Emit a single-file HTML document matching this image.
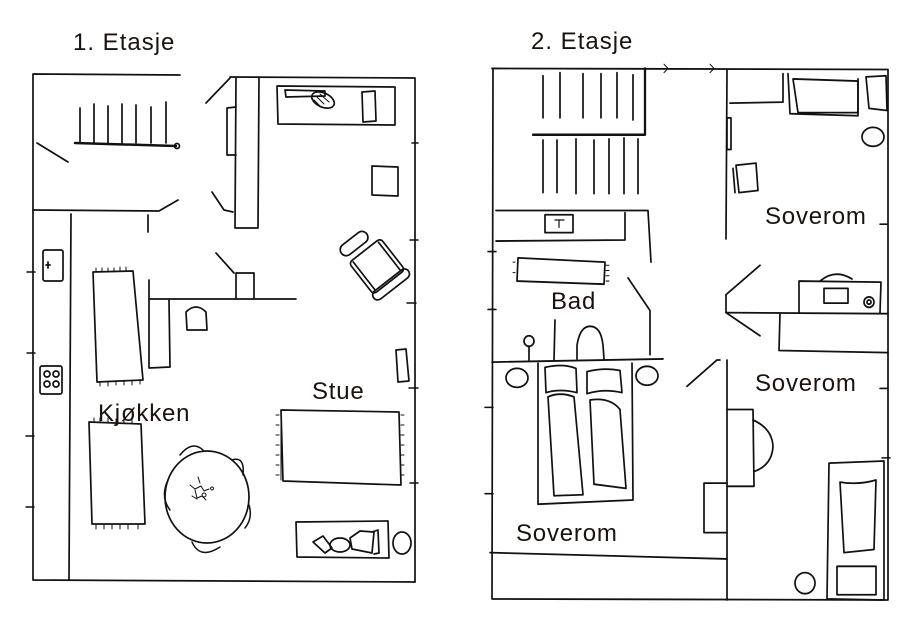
<!DOCTYPE html>
<html><head><meta charset="utf-8"><style>
html,body{margin:0;padding:0;background:#fff;width:920px;height:629px;overflow:hidden}
svg{display:block}
text{font-family:"Liberation Sans",sans-serif;fill:#1a120e}
</style></head><body>
<svg width="920" height="629" viewBox="0 0 920 629" xmlns="http://www.w3.org/2000/svg">
<g fill="none" stroke="#111" stroke-width="1.7" stroke-linecap="round" stroke-linejoin="round">
<!-- LEFT PLAN -->
<path d="M180 75 L33 74 L33 580 L415 582"/>
<path d="M230 77 L415 78 L415 582"/>
<path d="M33 210 L159 211 L178 200"/>
<path d="M37 143 L68 162"/>
<path d="M71 214 L69 580"/>
<path d="M80 108V143 M94 104V143 M108 106V143 M122 104V143 M136 105V143 M151 107V143 M166 102V143"/>
<path d="M75 143 L176 146" stroke-width="2.5"/>
<circle cx="177" cy="146" r="2.5"/>
<path d="M236 78 L235 228 L258 228 L259 78"/>
<path d="M236 107 L227 108 L227 155 L236 155"/>
<path d="M206 103 L230 78"/>
<path d="M212 192 L224 210 L233 212"/>
<path d="M148 215 V232"/>
<path d="M149 280 V368 L170 367 L169 300"/>
<path d="M149 299 L296 299"/>
<path d="M236 298 V273 L254 273 L254 298"/>
<path d="M216 253 L234 273"/>
<path d="M187 330 L186 312 Q196 302 206 312 L207 330 Z"/>
<rect x="43" y="250" width="20" height="31" rx="2"/>
<path d="M46 265 H50 M48 262 V268"/>
<rect x="40" y="366" width="22" height="28" rx="2"/>
<circle cx="47" cy="374" r="3"/><circle cx="56" cy="374" r="3"/><circle cx="47" cy="384" r="3"/><circle cx="56" cy="384" r="3"/>
<path d="M93 272 L133 271 L143 380 L97 382 Z"/>
<path d="M96 272V268 M102 272V268 M108 272V268 M114 272V268 M120 271V267 M126 271V267 M100 382V386 M108 382V386 M116 381V385 M124 381V385 M132 381V385 M140 380V384" stroke-width="1"/>
<path d="M89 422 L141 424 L145 524 L92 524 Z"/>
<path d="M94 422V418 M100 422V418 M108 422V418 M116 423V419 M124 423V419 M132 423V419 M96 525V529 M104 525V529 M112 525V529 M120 525V529 M128 525V529 M138 525V529" stroke-width="1"/>
<ellipse cx="207" cy="497" rx="42" ry="46"/>
<path d="M180 455 Q192 440 203 450 M232 460 Q245 456 243 475 M249 505 Q253 518 245 528 M192 542 Q200 560 220 547 M168 480 Q160 497 170 510" stroke-width="1.5"/>
<path d="M190 485 l5 4 l6 -3 l3 5 l5 -2 M195 490 l2 8 l5 -2 l4 4 M198 477 l2 6 M192 496 l5 3 M204 493 a2 2 0 1 0 0.1 0 M212 487 a1.5 1.5 0 1 0 .1 0" stroke-width="1"/>
<path d="M277 86 L395 87 L395 125 L278 124 Z"/>
<path d="M285 90 L325 91 L325 96 L286 97 Z"/>
<ellipse cx="323" cy="100" rx="12" ry="7" transform="rotate(25 323 100)"/>
<path d="M316 96 l8 8 M320 94 l9 8 M314 100 l6 6" stroke-width="1"/>
<path d="M362 92 L375 91 L376 121 L363 122 Z"/>
<path d="M372 166 L398 167 L398 196 L372 195 Z"/>
<g transform="rotate(-38 372 260)">
<rect x="352" y="248" width="40" height="40" rx="4"/>
<rect x="350" y="286" width="44" height="10" rx="5"/>
<rect x="352" y="230" width="32" height="12" rx="6"/>
<path d="M356 250 V286 M388 250 V286"/>
</g>
<path d="M396 350 L406 349 L409 381 L398 382 Z"/>
<path d="M281 410 L399 412 L401 485 L283 481 Z"/>
<path d="M281 412V480 M279 415h-3 M279 425h-3 M279 435h-3 M279 445h-3 M279 455h-3 M279 465h-3 M279 475h-3 M401 415h3 M401 425h3 M401 435h3 M401 445h3 M401 455h3 M401 465h3 M401 475h3" stroke-width="1"/>
<path d="M296 522 L388 521 L389 558 L297 557 Z"/>
<path d="M313 542 L323 536 L332 548 L325 553 Z"/>
<ellipse cx="340" cy="545" rx="10" ry="7"/>
<path d="M350 538 L360 531 L374 532 L372 553 L352 549 Z"/>
<path d="M372 532 L378 530 L379 553 L374 554"/>
<ellipse cx="402" cy="543" rx="9" ry="11"/>
<path d="M412 143h6 M410 240h8 M407 303 H416 M409 388h9 M410 483h8 M27 272h8 M27 353h8 M26 436h8 M26 507h8" stroke-width="1.5"/>
</g>

<!-- RIGHT PLAN (y-corrected) -->
<g fill="none" stroke="#111" stroke-width="1.7" stroke-linecap="round" stroke-linejoin="round" transform="translate(0,60) scale(1,1.0526) translate(0,-60)">
<path d="M492 68 L888 69 L888 573 L492 572 L493 68"/>
<path d="M664 64 l4 4 l-4 4 M710 64 l4 4 l-4 4" stroke-width="1"/>
<path d="M727 69 L726 230 M727 345 L727 573"/>
<path d="M543 75V115 M560 72V115 M583 73V115 M601 73V115 M617 72V115 M633 74V117"/>
<path d="M533 131 L645 131 L645 68" stroke-width="2.3"/>
<path d="M543 136V186 M557 136V186 M576 135V187 M594 136V187 M609 135V187 M624 134V187 M638 135V187"/>
<path d="M496 203 L648 203 L651 252 M496 232 L625 231 L625 205"/>
<rect x="545" y="207" width="28" height="17"/>
<path d="M555 212 h9 M559 212 v7" stroke-width="1.2"/>
<path d="M518 248 L605 252 L604 273 L517 270 Z"/>
<path d="M606 255h3 M606 260h3 M606 265h3 M606 270h3 M515 252h-2 M515 262h-2" stroke-width="1"/>
<path d="M628 267 L650 298 L650 340"/>
<path d="M492 347 L663 344"/>
<path d="M555 307 L554 345"/>
<path d="M577 344 L577 331 Q580 313 590 313 Q601 313 603 331 L604 344"/>
<circle cx="529" cy="327" r="5"/><path d="M529 332V345"/>
<path d="M488 242h8 M488 297h8 M485 390h8 M485 472h8" stroke-width="1.5"/>
<path d="M538 348 L538 482 L633 478 L632 348"/>
<path d="M545 352 Q563 348 576 353 L577 376 Q560 372 546 376 Z"/>
<path d="M587 356 Q605 352 620 355 L622 376 Q604 372 587 377 Z"/>
<path d="M548 380 Q560 375 574 380 L583 473 L554 474 Z"/>
<path d="M590 383 Q610 380 620 392 L626 467 L594 463 Z"/>
<ellipse cx="517" cy="362" rx="11" ry="9"/>
<ellipse cx="647" cy="360" rx="11" ry="9"/>
<path d="M490 528 L727 534"/>
<path d="M687 370 L717 345 L720 345"/>
<path d="M730 101 L783 100 L783 73"/>
<path d="M788 73 L790 111 L858 113 L858 78"/>
<path d="M793 78 L858 80 L858 110 L798 110 Z"/>
<path d="M866 76 L886 75 L887 108 L869 106 Z"/>
<ellipse cx="873" cy="133" rx="11" ry="9"/>
<rect x="727" y="115" width="4" height="30"/>
<path d="M736 160 L756 158 L758 184 L739 186 Z M733 163 L735 186"/>
<path d="M760 255 L726 283 L726 300 L760 322"/>
<path d="M726 300 L888 301"/>
<path d="M780 301 L779 336 L888 338"/>
<path d="M799 300 L799 270 L881 271 L880 300"/>
<path d="M820 270 Q835 258 852 268"/>
<rect x="824" y="277" width="24" height="14"/>
<circle cx="869" cy="290" r="5"/><circle cx="869" cy="290" r="2"/>
<path d="M727 392 L753 392 L754 465 L727 465"/>
<path d="M753 402 Q772 410 773 427 Q772 445 754 451"/>
<path d="M727 462 L704 462 L704 509 L727 509"/>
<path d="M829 443 L884 441 L884 573 L827 572 Z"/>
<path d="M840 461 Q858 464 876 459 L874 525 L844 528 Z"/>
<path d="M837 541 L876 541 L876 568 L837 568 Z"/>
<ellipse cx="805" cy="557" rx="10" ry="10"/>
<path d="M880 216h8 M880 372h8 M882 438h8" stroke-width="1.5"/>
</g>
<g font-size="24" letter-spacing="1">
<text x="73" y="50">1. Etasje</text>
<text x="531" y="49">2. Etasje</text>
</g>
<g font-size="24" letter-spacing="0.8">
<text x="312" y="399">Stue</text>
<text x="98" y="421">Kjøkken</text>
<text x="551" y="309">Bad</text>
<text x="765" y="224">Soverom</text>
<text x="755" y="391">Soverom</text>
<text x="516" y="541">Soverom</text>
</g>
</svg>
</body></html>
